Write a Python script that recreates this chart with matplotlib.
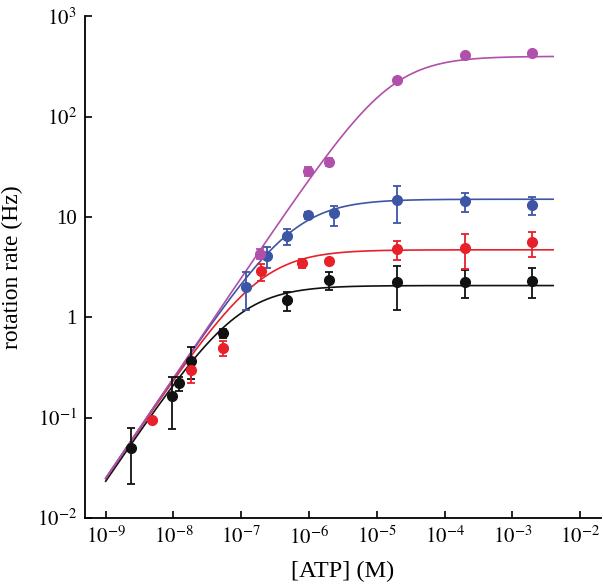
import numpy as np
import matplotlib
matplotlib.use("Agg")
import matplotlib.pyplot as plt

# black
bk_x = [2.36e-9, 9.5e-9, 1.19e-8, 1.81e-8, 5.3e-8, 4.68e-7, 1.99e-6, 1.96e-5, 1.99e-4, 1.96e-3]
bk_y = [0.050, 0.164, 0.223, 0.367, 0.69, 1.47, 2.36, 2.24, 2.26, 2.28]
bk_lo = [0.0218, 0.0766, 0.186, 0.24, 0.62, 1.15, 1.87, 1.19, 1.54, 1.55]
bk_hi = [0.079, 0.256, 0.256, 0.51, 0.77, 1.80, 2.80, 3.25, 2.98, 3.10]

# red
rd_x = [4.76e-9, 1.81e-8, 5.3e-8, 1.95e-7, 7.94e-7, 1.99e-6, 1.96e-5, 1.99e-4, 1.96e-3]
rd_y = [0.095, 0.299, 0.49, 2.86, 3.46, 3.67, 4.78, 4.89, 5.56]
rd_lo = [0.095, 0.22, 0.41, 2.3, 3.1, 3.5, 3.7, 3.0, 4.0]
rd_hi = [0.095, 0.38, 0.58, 3.4, 3.8, 3.85, 5.8, 6.8, 7.0]

# blue
bl_x = [1.16e-7, 2.37e-7, 4.68e-7, 9.5e-7, 2.33e-6, 1.96e-5, 1.99e-4, 1.96e-3]
bl_y = [2.02, 4.09, 6.48, 10.5, 10.9, 14.6, 14.5, 13.0]
bl_lo = [1.17, 3.1, 5.2, 9.6, 8.2, 8.7, 11.3, 10.4]
bl_hi = [2.8, 5.0, 7.6, 11.3, 12.7, 20.5, 17.4, 15.9]

# purple
pu_x = [1.89e-7, 9.75e-7, 1.99e-6, 1.96e-5, 1.99e-4, 1.96e-3]
pu_y = [4.29, 28.4, 35.2, 229, 410, 430]
pu_lo = [3.8, 25.4, 32.2, 229, 410, 430]
pu_hi = [4.8, 31.4, 38.2, 229, 410, 430]

# Michaelis-Menten fit parameters (Vmax in Hz, Km in M)
vmax = {"black": 2.07, "red": 4.7, "blue": 15.0, "purple": 398}
km = {"black": 8.8e-8, "red": 1.9e-7, "blue": 6.0e-7, "purple": 1.6e-5}

colors = {"black": "#111111", "red": "#e8202a", "blue": "#3d55a5", "purple": "#b050aa"}

plt.rcParams["font.family"] = ["Liberation Serif", "DejaVu Serif"]
plt.rcParams["mathtext.fontset"] = "stix"

fig = plt.figure(figsize=(6.03, 5.87), dpi=100)
ax = fig.add_axes([0.141, 0.1175, 0.855, 0.855])

xs = np.logspace(-9, -2.4, 300)
for name in ["black", "red", "blue", "purple"]:
    ax.plot(xs, vmax[name] * xs / (km[name] + xs), color=colors[name], lw=1.2, zorder=2)

series = [("black", bk_x, bk_y, bk_lo, bk_hi),
          ("red", rd_x, rd_y, rd_lo, rd_hi),
          ("blue", bl_x, bl_y, bl_lo, bl_hi),
          ("purple", pu_x, pu_y, pu_lo, pu_hi)]
for name, x, y, lo, hi in series:
    y = np.array(y)
    err = [y - np.array(lo), np.array(hi) - y]
    ax.errorbar(x, y, yerr=err, fmt="o", color=colors[name], ms=7,
                capsize=3, elinewidth=1.3, capthick=1.3, zorder=3)

ax.set_xscale("log")
ax.set_yscale("log")
ax.set_xlim(10**-9.305, 10**-1.7)
ax.set_ylim(1e-2, 1e3)
ax.set_xticks([1e-9, 1e-8, 1e-7, 1e-6, 1e-5, 1e-4, 1e-3, 1e-2])
ax.set_xticklabels([r"$10^{-%d}$" % k for k in range(9, 1, -1)])
ax.set_yticks([1e-2, 1e-1, 1, 10, 1e2, 1e3])
ax.set_yticklabels([r"$10^{-2}$", r"$10^{-1}$", "1", "10", r"$10^{2}$", r"$10^{3}$"])
ax.minorticks_off()
ax.tick_params(direction="in", length=5, width=1.2, labelsize=15, pad=6)
for s in ["top", "right"]:
    ax.spines[s].set_visible(False)
for s in ["left", "bottom"]:
    ax.spines[s].set_linewidth(1.3)

ax.set_xlabel("[ATP] (M)", fontsize=17.5, labelpad=9)
ax.set_ylabel("rotation rate (Hz)", fontsize=17, labelpad=10)

fig.savefig("out.png", dpi=100)
